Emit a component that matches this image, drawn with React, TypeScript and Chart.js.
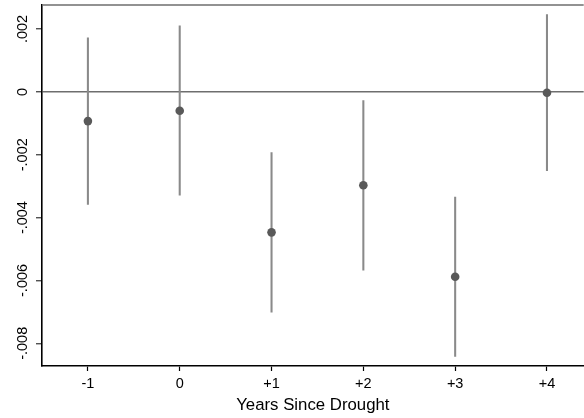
import React, { useEffect, useRef } from "react";
import { Chart, registerables } from "chart.js";

Chart.register(...registerables);

const xLabels = ["-1", "0", "+1", "+2", "+3", "+4"];
const estimates = [-0.00093, -0.0006, -0.00447, -0.00297, -0.00588, -0.00003];
const lowerCI = [-0.00358, -0.00329, -0.00701, -0.00567, -0.00842, -0.00251];
const upperCI = [0.00172, 0.0021, -0.00193, -0.00028, -0.00335, 0.00246];
const yTicks = [-0.008, -0.006, -0.004, -0.002, 0, 0.002];
const yTickLabels = ["-.008", "-.006", "-.004", "-.002", "0", ".002"];
const xTitle = "Years Since Drought";

const FONT = "'Liberation Sans', Arial, sans-serif";

const topBorder = {
  id: "topBorder",
  afterDatasetsDraw(chart: any) {
    const { ctx, chartArea } = chart;
    ctx.save();
    ctx.strokeStyle = "#6e6e6e";
    ctx.lineWidth = 1.5;
    ctx.beginPath();
    ctx.moveTo(chartArea.left, chartArea.top);
    ctx.lineTo(chartArea.right, chartArea.top);
    ctx.stroke();
    ctx.restore();
  },
};

export default function App() {
  const ref = useRef<HTMLCanvasElement | null>(null);

  useEffect(() => {
    if (!ref.current) return;
    const chart = new Chart(ref.current, {
      type: "bar",
      data: {
        datasets: [
          {
            type: "bar",
            data: xLabels.map((_, i) => ({ x: i, y: [lowerCI[i], upperCI[i]] })) as any,
            backgroundColor: "#8a8a8a",
            borderWidth: 0,
            barThickness: 1.4,
            grouped: false,
            order: 2,
          } as any,
          {
            type: "line",
            data: xLabels.map((_, i) => ({ x: i, y: estimates[i] })) as any,
            showLine: false,
            pointRadius: 4.3,
            pointBackgroundColor: "#595959",
            pointBorderWidth: 0,
            order: 1,
          } as any,
        ],
      },
      options: {
        animation: false,
        responsive: false,
        maintainAspectRatio: false,
        layout: { padding: { top: 5, left: 0, right: 0, bottom: 0 } },
        plugins: { legend: { display: false }, tooltip: { enabled: false } },
        scales: {
          x: {
            type: "linear",
            offset: false,
            min: -0.5,
            max: 5.4,
            afterBuildTicks: (s: any) => {
              s.ticks = xLabels.map((_, i) => ({ value: i }));
            },
            afterFit: (s: any) => {
              s.height = 52;
              s.paddingLeft = 0;
              s.paddingRight = 0;
            },
            ticks: {
              callback: (v: any) => xLabels[v as number] ?? "",
              color: "#000",
              font: { family: FONT, size: 14.5 },
              padding: 4,
              maxRotation: 0,
              autoSkip: false,
            },
            grid: {
              offset: false,
              drawOnChartArea: false,
              drawTicks: true,
              tickLength: 5,
              tickColor: "#000",
              tickWidth: 1.2,
            },
            border: { color: "#000", width: 1.6 },
            title: {
              display: true,
              text: xTitle,
              color: "#000",
              font: { family: FONT, size: 16.8 },
              padding: { top: 0, bottom: 3 },
            },
          },
          y: {
            type: "linear",
            min: -0.008722,
            max: 0.002764,
            afterBuildTicks: (s: any) => {
              s.ticks = yTicks.map((v) => ({ value: v }));
            },
            afterFit: (s: any) => {
              s.width = 42;
              s.paddingTop = 0;
              s.paddingBottom = 0;
            },
            ticks: {
              callback: (v: any) => {
                const i = yTicks.findIndex((t) => Math.abs(t - (v as number)) < 1e-9);
                return i >= 0 ? yTickLabels[i] : "";
              },
              color: "#000",
              font: { family: FONT, size: 14.5 },
              minRotation: 90,
              maxRotation: 90,
              crossAlign: "center",
              padding: -3.5,
              autoSkip: false,
            },
            grid: {
              drawOnChartArea: true,
              color: (c: any) => (c.tick && Math.abs(c.tick.value) < 1e-12 ? "#6e6e6e" : "rgba(0,0,0,0)"),
              lineWidth: 1.5,
              drawTicks: true,
              tickLength: 6,
              tickColor: "#333",
              tickWidth: 1.2,
            },
            border: { color: "#000", width: 1.6 },
          },
        },
      } as any,
      plugins: [topBorder],
    });
    return () => chart.destroy();
  }, []);

  return (
    <div style={{ position: "absolute", left: 0, top: 0, width: 584, height: 418, background: "#fff", overflow: "hidden" }}>
      <canvas ref={ref} width={588} height={418} style={{ display: "block", width: 588, height: 418 }} />
    </div>
  );
}
